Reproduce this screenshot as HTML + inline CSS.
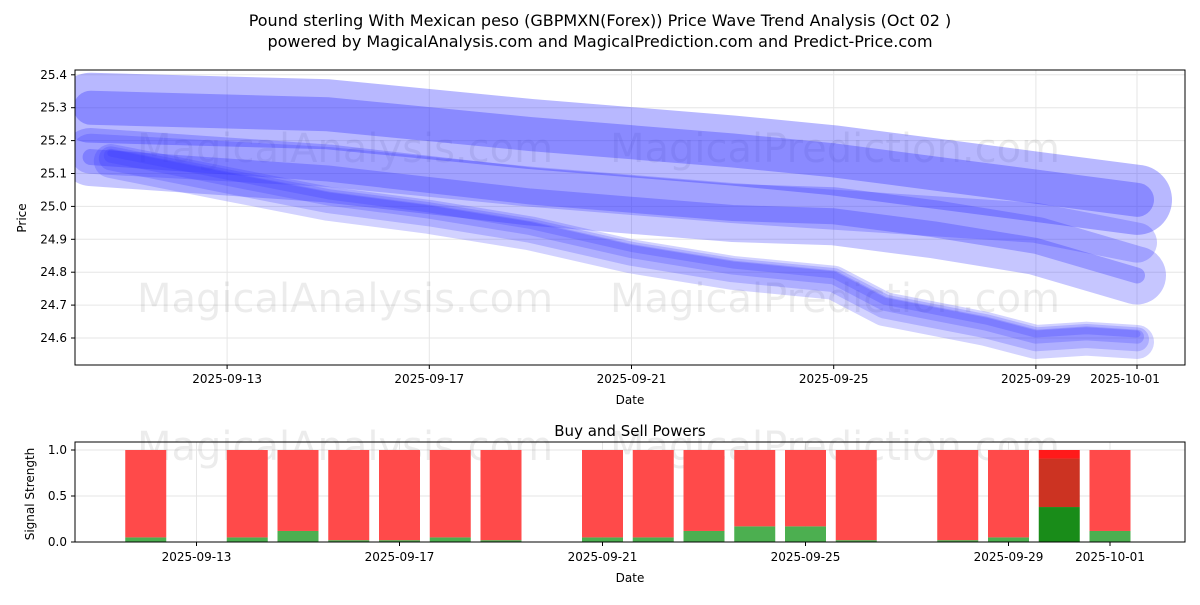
<!DOCTYPE html>
<html><head><meta charset="utf-8"><style>
body{margin:0;background:#fff;font-family:"Liberation Sans","DejaVu Sans",sans-serif}
svg text{font-family:"DejaVu Sans","Liberation Sans",sans-serif}
</style></head><body>
<svg id="c" width="1200" height="600" viewBox="0 0 1200 600" xmlns="http://www.w3.org/2000/svg">
<defs><clipPath id="pc"><rect x="75" y="70" width="1110" height="295"/></clipPath></defs>
<rect width="1200" height="600" fill="#fff"/>
<text x="600" y="26" text-anchor="middle" font-size="16">Pound sterling With Mexican peso (GBPMXN(Forex)) Price Wave Trend Analysis (Oct 02 )</text>
<text x="600" y="47" text-anchor="middle" font-size="16">powered by MagicalAnalysis.com and MagicalPrediction.com and Predict-Price.com</text>
<g id="topg"></g><g id="plotg" clip-path="url(#pc)"></g><g id="frameg"></g><g id="botg"></g>
</svg>
<script>
const dayOffsets=[-0.3,2,4,6,8,10,12,14,15,17,18,19,20];
const mainSeries=[25.15,25.08,25.02,24.98,24.93,24.86,24.81,24.78,24.70,24.64,24.60,24.61,24.60];
const bandDays=[-0.7,4,8,12,14,16,18,20];
const band1=[25.30,25.28,25.22,25.17,25.14,25.10,25.06,25.02];
const band2=[25.16,25.12,25.06,25.01,24.99,24.97,24.95,24.89];
const band3=[25.15,25.10,25.03,24.98,24.97,24.93,24.88,24.79];
const yTicks=[24.6,24.7,24.8,24.9,25.0,25.1,25.2,25.3,25.4];
const xTickDays=[2,6,10,14,18,20];
const xTickLabels=["2025-09-13","2025-09-17","2025-09-21","2025-09-25","2025-09-29","2025-10-01"];
const barDays=[1,3,4,5,6,7,8,10,11,12,13,14,15,17,18,19,20];
const buyPower=[0.05,0.05,0.12,0.02,0.02,0.05,0.02,0.05,0.05,0.12,0.17,0.17,0.02,0.02,0.05,0.38,0.12];
const sellPower=[0.95,0.95,0.88,0.98,0.98,0.95,0.98,0.95,0.95,0.88,0.83,0.83,0.98,0.98,0.95,0.62,0.88];
const NS="http://www.w3.org/2000/svg";
function el(t,a,p){const e=document.createElementNS(NS,t);for(const k in a)e.setAttribute(k,a[k]);p.appendChild(e);return e;}
const topG=document.getElementById('topg'),plotG=document.getElementById('plotg'),frameG=document.getElementById('frameg'),botG=document.getElementById('botg');
const xT=d=>126+d*50.55, yT=v=>338-(v-24.6)*329;
const xB=d=>95+d*50.75, yB=v=>542-v*92;
yTicks.forEach(v=>{const l=el('line',{x1:75,x2:1185,y1:yT(v),y2:yT(v),stroke:'#e6e6e6'},topG);


const t=el('text',{x:67,y:yT(v)+4,'text-anchor':'end','font-size':12},topG);t.textContent=v.toFixed(1);


el('line',{x1:71,x2:75,y1:yT(v),y2:yT(v),stroke:'#000'},topG);});
xTickDays.forEach((d,i)=>{el('line',{x1:xT(d),x2:xT(d),y1:70,y2:365,stroke:'#e6e6e6'},topG);el('line',{x1:xT(d),x2:xT(d),y1:365,y2:369,stroke:'#000'},topG);
const t=el('text',{x:xT(d)-(i==5?12:0),y:383,'text-anchor':'middle','font-size':12},topG);t.textContent=xTickLabels[i];

});
[[345,162],[835,162],[345,312],[835,312]].forEach((p,i)=>{const t=el('text',{x:p[0],y:p[1],'text-anchor':'middle','font-size':40,fill:'#000',opacity:0.07},topG);t.textContent=i%2?'MagicalPrediction.com':'MagicalAnalysis.com';

});
function poly(days,vals,w,op,name){const pts=days.map((d,i)=>xT(d)+','+yT(vals[i])).join(' ');
const p=el('polyline',{points:pts,fill:'none',stroke:'#3333ff','stroke-width':w,'stroke-opacity':op,'stroke-linecap':'round','stroke-linejoin':'round'},plotG);

}
poly(bandDays,band1,70,0.35,'wave-band-upper-outer');
poly(bandDays,band1,34,0.35,'wave-band-upper');
poly(bandDays,band2,40,0.25,'wave-band-middle');
poly(bandDays,band3,58,0.28,'wave-band-lower');
poly(bandDays,band3,16,0.3,'wave-band-lower-core');
[34,24,14,7].forEach((w,i)=>poly(dayOffsets,mainSeries.map(v=>v+(i-1.5)*0.008),w,0.22,'wave-main-'+i));
el('rect',{x:75,y:70,width:1110,height:295,fill:'none',stroke:'#000'},frameG);
let t=el('text',{x:630,y:404,'text-anchor':'middle','font-size':12},frameG);t.textContent='Date';


t=el('text',{x:26,y:218,'text-anchor':'middle','font-size':12,transform:'rotate(-90 26 218)'},frameG);t.textContent='Price';


t=el('text',{x:630,y:436,'text-anchor':'middle','font-size':15},botG);t.textContent='Buy and Sell Powers';


[0,0.5,1].forEach(v=>{el('line',{x1:75,x2:1185,y1:yB(v),y2:yB(v),stroke:'#e6e6e6'},botG);el('line',{x1:71,x2:75,y1:yB(v),y2:yB(v),stroke:'#000'},botG);
const tt=el('text',{x:67,y:yB(v)+4,'text-anchor':'end','font-size':12},botG);tt.textContent=v.toFixed(1);

});
xTickDays.forEach((d,i)=>{el('line',{x1:xB(d),x2:xB(d),y1:442,y2:542,stroke:'#e6e6e6'},botG);el('line',{x1:xB(d),x2:xB(d),y1:542,y2:546,stroke:'#000'},botG);
const tt=el('text',{x:xB(d),y:561,'text-anchor':'middle','font-size':12},botG);tt.textContent=xTickLabels[i];

});
[[345,460],[835,460]].forEach((p,i)=>{const tt=el('text',{x:p[0],y:p[1],'text-anchor':'middle','font-size':40,opacity:0.07},botG);tt.textContent=i?'MagicalPrediction.com':'MagicalAnalysis.com';

});
barDays.forEach((d,i)=>{const x=xB(d)-20.5,b=buyPower[i],s=sellPower[i];const special=b>0.3;
const g=el('rect',{x:x,y:yB(b),width:41,height:yB(0)-yB(b),fill:special?'#008000':'#4caf50',opacity:special?0.9:1},botG);


if(special){const r1=el('rect',{x:x,y:yB(b+s*0.85),width:41,height:yB(b)-yB(b+s*0.85),fill:'#cc3322'},botG);


const r2=el('rect',{x:x,y:yB(b+s),width:41,height:yB(b+s*0.85)-yB(b+s),fill:'#ff1a1a'},botG);

}
else{const r=el('rect',{x:x,y:yB(b+s),width:41,height:yB(b)-yB(b+s),fill:'#ff4a4a'},botG);

}});
el('rect',{x:75,y:442,width:1110,height:100,fill:'none',stroke:'#000'},botG);
t=el('text',{x:630,y:582,'text-anchor':'middle','font-size':12},botG);t.textContent='Date';


t=el('text',{x:34,y:494,'text-anchor':'middle','font-size':12,transform:'rotate(-90 34 494)'},botG);t.textContent='Signal Strength';


</script>
</body></html>
